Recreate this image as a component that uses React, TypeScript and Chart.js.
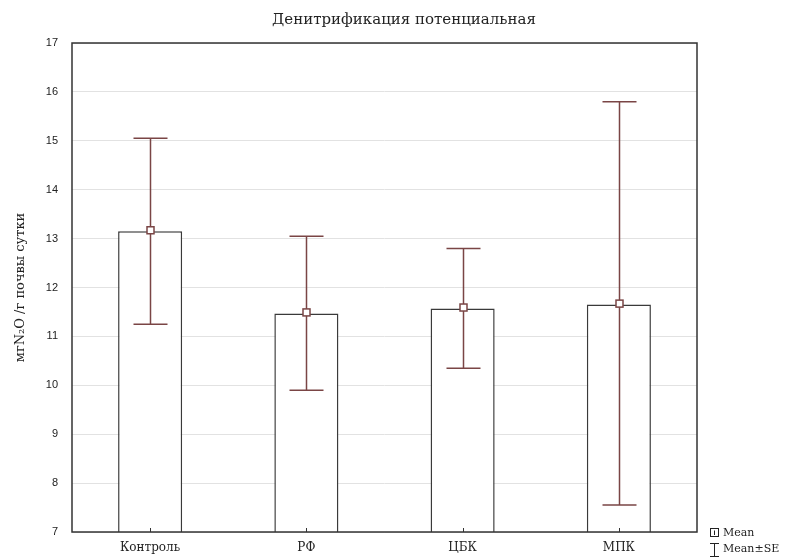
import React, { useEffect, useRef } from "react";
import { Chart, registerables } from "chart.js";

Chart.register(...registerables);

const categories = ["Контроль", "РФ", "ЦБК", "МПК"];
const means = [13.15, 11.47, 11.57, 11.65];
const upperSE = [15.05, 13.05, 12.8, 15.8];
const lowerSE = [11.25, 9.9, 10.35, 7.55];
const yMin = 7;
const yMax = 17;
const titleText = "Денитрификация потенциальная";
const yTitle = "мгN₂O /г почвы сутки";
const legendLabels = ["Mean", "Mean±SE"];

const ERR = "#7a4545";
const SERIF = "'DejaVu Serif', 'Liberation Serif', serif";
const SANS = "'Liberation Sans', Arial, sans-serif";

const overlay = {
  id: "overlay",
  afterDatasetsDraw(chart: any) {
    const { ctx, chartArea, scales } = chart;
    const xs = scales.x;
    const ys = scales.y;
    ctx.save();
    ctx.strokeStyle = ERR;
    ctx.lineWidth = 1.5;
    for (let i = 0; i < categories.length; i++) {
      const x = Math.round(xs.getPixelForValue(i)) + 0.5;
      const yu = ys.getPixelForValue(upperSE[i]);
      const yl = ys.getPixelForValue(lowerSE[i]);
      ctx.beginPath();
      ctx.moveTo(x, yu);
      ctx.lineTo(x, yl);
      ctx.moveTo(x - 17, yu);
      ctx.lineTo(x + 17, yu);
      ctx.moveTo(x - 17, yl);
      ctx.lineTo(x + 17, yl);
      ctx.stroke();
      const ym = ys.getPixelForValue(means[i]);
      ctx.fillStyle = "#ffffff";
      ctx.fillRect(x - 3.5, ym - 4.5, 7, 7);
      ctx.strokeRect(x - 3.5, ym - 4.5, 7, 7);
    }
    ctx.strokeStyle = "#333";
    ctx.lineWidth = 1.5;
    ctx.strokeRect(
      chartArea.left,
      chartArea.top,
      chartArea.right - chartArea.left,
      chartArea.bottom - chartArea.top
    );
    ctx.lineWidth = 1;
    for (let i = 0; i < categories.length; i++) {
      const x = Math.round(xs.getPixelForValue(i)) + 0.5;
      ctx.beginPath();
      ctx.moveTo(x, chartArea.bottom);
      ctx.lineTo(x, chartArea.bottom - 4);
      ctx.stroke();
    }
    ctx.restore();
  },
  afterDraw(chart: any) {
    const { ctx } = chart;
    ctx.save();
    ctx.fillStyle = "#222";
    ctx.font = `15px ${SERIF}`;
    ctx.textAlign = "center";
    ctx.textBaseline = "middle";
    ctx.fillText(titleText, 404, 20);
    ctx.strokeStyle = "#222";
    ctx.lineWidth = 1;
    ctx.strokeRect(710.5, 528.5, 8, 8);
    ctx.beginPath();
    ctx.moveTo(714.5, 530.5);
    ctx.lineTo(714.5, 535);
    ctx.stroke();
    ctx.beginPath();
    ctx.moveTo(714.5, 543);
    ctx.lineTo(714.5, 557);
    ctx.moveTo(710, 543.5);
    ctx.lineTo(719, 543.5);
    ctx.moveTo(710, 556.5);
    ctx.lineTo(719, 556.5);
    ctx.stroke();
    ctx.font = `11px ${SERIF}`;
    ctx.textAlign = "left";
    ctx.fillText(legendLabels[0], 723, 533);
    ctx.fillText(legendLabels[1], 723, 549);
    ctx.restore();
  },
};

export default function App() {
  const ref = useRef<HTMLCanvasElement | null>(null);
  useEffect(() => {
    if (!ref.current) return;
    const chart = new Chart(ref.current, {
      type: "bar",
      data: {
        labels: categories,
        datasets: [
          {
            data: means,
            backgroundColor: "#ffffff",
            borderColor: "#3a3a3a",
            borderWidth: 1.5,
            barPercentage: 0.41,
            categoryPercentage: 1,
          },
        ],
      },
      options: {
        animation: false,
        responsive: true,
        maintainAspectRatio: false,
        layout: { padding: { top: 43, right: 103, left: 0, bottom: 0 } },
        plugins: {
          legend: { display: false },
          title: { display: false },
          tooltip: { enabled: false },
        },
        scales: {
          x: {
            afterFit: (s: any) => {
              s.height = 27;
            },
            grid: { display: false, drawTicks: false },
            border: { display: false },
            ticks: {
              color: "#222",
              font: { family: SERIF, size: 12 },
              padding: 9,
              maxRotation: 0,
            },
          },
          y: {
            min: yMin,
            max: yMax,
            afterFit: (s: any) => {
              s.width = 72;
            },
            grid: { color: "#e2e2e2", drawTicks: false },
            border: { display: false },
            ticks: {
              stepSize: 1,
              color: "#222",
              font: { family: SANS, size: 11 },
              padding: 14,
            },
            title: {
              display: true,
              text: yTitle,
              color: "#222",
              font: { family: SERIF, size: 13 },
              padding: { top: 13, bottom: 0 },
            },
          },
        },
      },
      plugins: [overlay],
    });
    return () => chart.destroy();
  }, []);
  return (
    <div
      style={{
        position: "fixed",
        left: 0,
        top: 0,
        width: 800,
        height: 559,
        background: "#fff",
      }}
    >
      <canvas ref={ref} />
    </div>
  );
}
